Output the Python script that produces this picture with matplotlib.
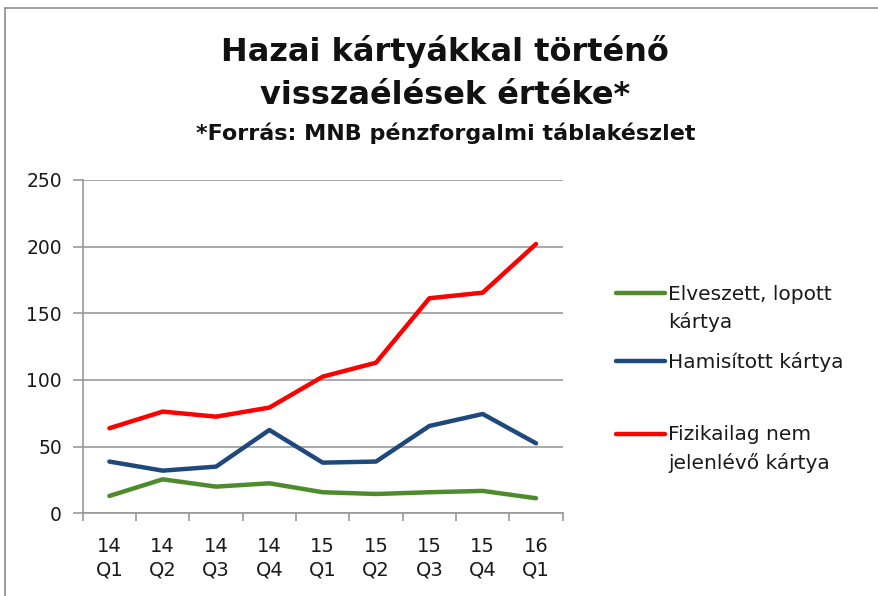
import matplotlib
matplotlib.use("Agg")
import matplotlib.pyplot as plt
from matplotlib.lines import Line2D
from matplotlib.patches import Rectangle

plt.rcParams['font.family'] = ['DejaVu Sans']

categories = ["14\nQ1", "14\nQ2", "14\nQ3", "14\nQ4", "15\nQ1", "15\nQ2", "15\nQ3", "15\nQ4", "16\nQ1"]
elveszett = [13, 25.5, 20, 22.5, 15.8, 14.5, 15.8, 16.8, 11.3]
hamisitott = [38.8, 32, 35, 62.5, 38, 38.8, 65.5, 74.5, 52.5]
fizikailag = [63.8, 76.3, 72.5, 79.3, 102.5, 113, 161.3, 165.5, 202]
series_names = [["Elveszett, lopott", "kártya"], ["Hamisított kártya"], ["Fizikailag nem", "jelenlévő kártya"]]
colors = ["#4e8b2b", "#1f497d", "#ff0000"]
yticks = [0, 50, 100, 150, 200, 250]

W, H = 879, 596
fig = plt.figure(figsize=(W / 100, H / 100), dpi=100)
fig.patch.set_facecolor("white")

# outer chart frame
fig.add_artist(Rectangle((5 / W, -0.1), 1.2, (596 - 8) / H + 0.1, transform=fig.transFigure,
                         fill=False, edgecolor="#8c8c8c", linewidth=1.2))

ax = fig.add_axes([82.7 / W, (H - 513.3) / H, (562.7 - 82.7) / W, (513.3 - 180) / H])
x = list(range(len(categories)))
for vals, c in zip([elveszett, hamisitott, fizikailag], colors):
    ax.plot(x, vals, color=c, linewidth=3.2, solid_capstyle="round", solid_joinstyle="round", zorder=3)

ax.set_xlim(-0.5, len(categories) - 0.5)
ax.set_ylim(0, 250)
ax.set_yticks(yticks)
ax.set_yticklabels([str(v) for v in yticks])
ax.yaxis.grid(True, color="#999999", linewidth=1.2)
ax.set_axisbelow(True)
ax.set_xticks(x)
ax.set_xticklabels(categories, fontsize=14, linespacing=1.3)
ax.set_xticks([i - 0.5 for i in range(len(categories) + 1)], minor=True)
ax.tick_params(axis="x", which="major", length=0, pad=17, colors="#1a1a1a")
ax.tick_params(axis="x", which="minor", length=6, width=1.2, color="#999999")
ax.tick_params(axis="y", length=7, width=1.2, color="#999999", labelsize=13.5, pad=8, labelcolor="#1a1a1a")
for s in ["top", "right"]:
    ax.spines[s].set_visible(False)
for s in ["left", "bottom"]:
    ax.spines[s].set_color("#999999")
    ax.spines[s].set_linewidth(1.2)

fig.text(445 / W, 1 - 52 / H, "Hazai kártyákkal történő", ha="center", va="center",
         fontsize=23, fontweight="bold", color="#111111")
fig.text(445 / W, 1 - 95 / H, "visszaélések értéke*", ha="center", va="center",
         fontsize=23, fontweight="bold", color="#111111")
fig.text(446 / W, 1 - 133 / H, "*Forrás: MNB pénzforgalmi táblakészlet", ha="center", va="center",
         fontsize=16, fontweight="bold", color="#111111")

# legend
leg_y = [293, 361, 434]
for lines, c, yy in zip(series_names, colors, leg_y):
    fig.add_artist(Line2D([616 / W, 665 / W], [1 - yy / H, 1 - yy / H], transform=fig.transFigure,
                          color=c, linewidth=3.2, solid_capstyle="round"))
    for k, line in enumerate(lines):
        fig.text(668 / W, 1 - (yy + 1 + k * 28) / H, line, ha="left", va="center", fontsize=14.5,
                 color="#1a1a1a")

fig.savefig("out.png", dpi=100)
